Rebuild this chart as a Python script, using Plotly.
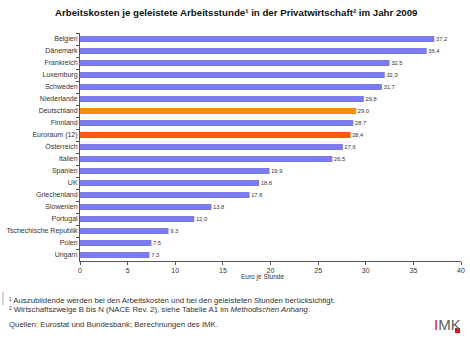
import plotly.graph_objects as go

countries = ["Belgien", "Dänemark", "Frankreich", "Luxemburg", "Schweden", "Niederlande",
             "Deutschland", "Finnland", "Euroraum (12)", "Österreich", "Italien", "Spanien",
             "UK", "Griechenland", "Slowenien", "Portugal", "Tschechische Republik", "Polen", "Ungarn"]
values = [37.2, 36.4, 32.5, 32.0, 31.7, 29.8, 29.0, 28.7, 28.4, 27.6, 26.5, 19.9,
          18.8, 17.8, 13.8, 12.0, 9.3, 7.5, 7.3]
highlight = {"Deutschland": "#ff8c10", "Euroraum (12)": "#f85a08"}
base_color = "#7b7bf0"
colors = [highlight.get(c, base_color) for c in countries]
x_ticks = [0, 5, 10, 15, 20, 25, 30, 35, 40]

W, H = 470, 343
L, R, T, B = 80, 9, 33, 82

fig = go.Figure(go.Bar(
    x=values, y=countries, orientation="h",
    marker=dict(color=colors, line=dict(width=0)),
    width=0.48,
    texttemplate=" %{x:.1f}", textposition="outside", cliponaxis=False,
    textfont=dict(size=7, color="#333333", family="Liberation Sans, Arial, sans-serif"),
))

fig.update_layout(
    width=W, height=H, margin=dict(l=L, r=R, t=T, b=B, autoexpand=False),
    paper_bgcolor="white", plot_bgcolor="white",
    separators=",.",
    showlegend=False,
    font=dict(family="Liberation Sans, Arial, sans-serif", color="#222222"),
    xaxis=dict(range=[0, 40], tickvals=x_ticks, ticks="outside", ticklen=3, tickcolor="#555",
               showline=True, linecolor="#555", linewidth=1, showgrid=False, zeroline=False,
               automargin=False, tickfont=dict(size=7, color="#333")),
    yaxis=dict(autorange="reversed", categoryorder="array", categoryarray=countries,
               ticks="outside", ticklen=3, tickcolor="#555", tickson="boundaries",
               showline=True, linecolor="#555", linewidth=1, showgrid=False,
               automargin=False, tickfont=dict(size=7, color="#333")),
    bargap=0.5,
)

def px(xp):
    return (xp - L) / (W - L - R)

def py(yp):
    return 1 - (yp - T) / (H - T - B)

def note(text, x, y, size, xanchor="left", color="#333", family=None):
    f = dict(size=size, color=color)
    if family:
        f["family"] = family
    return dict(text=text, x=px(x), y=py(y), xref="paper", yref="paper", showarrow=False,
                xanchor=xanchor, yanchor="middle", font=f)

ann = [
    note("<b>Arbeitskosten je geleistete Arbeitsstunde¹ in der Privatwirtschaft² im Jahr 2009</b>",
         236, 13, 9.7, xanchor="center", color="#111"),
    note("Euro je Stunde", 262, 277, 6.5, xanchor="center"),
    note("¹ Auszubildende werden bei den Arbeitskosten und bei den geleisteten Stunden berücksichtigt.",
         7, 300, 7.8),
    note("² Wirtschaftszweige B bis N (NACE Rev. 2), siehe Tabelle A1 im <i>Methodischen Anhang</i>.",
         7, 309, 7.8),
    note("Quellen: Eurostat und Bundesbank; Berechnungen des IMK.", 7, 324, 7.8),
    note("<span style='color:#e0101a'>I</span>MK", 432, 324, 15, color="#606060"),
]
fig.update_layout(annotations=ann)

shapes = [
    dict(type="rect", xref="paper", yref="paper", x0=px(455), x1=px(460), y0=py(333), y1=py(328),
         fillcolor="#e0101a", line=dict(width=0)),
    dict(type="line", xref="paper", yref="paper", x0=px(3), x1=px(3), y0=py(292), y1=py(305),
         line=dict(color="#aaaaaa", width=1)),
]
fig.update_layout(shapes=shapes)

fig.write_html("out.html")
